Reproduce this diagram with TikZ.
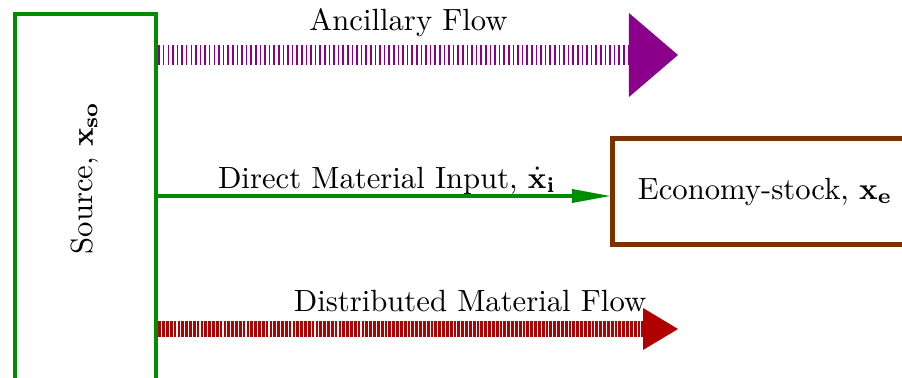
\documentclass[tikz,border=0pt]{standalone}
\usetikzlibrary{arrows.meta}
\definecolor{srcgreen}{RGB}{0,140,0}
\definecolor{ancpurple}{RGB}{139,0,139}
\definecolor{distred}{RGB}{176,0,0}
\definecolor{econbrown}{RGB}{122,51,0}
\begin{document}
\begin{tikzpicture}[x=0.326pt,y=-0.326pt,
  stockbox/.style={draw,rectangle,line width=1.5pt,inner sep=0pt,fill=white},
  flowlabel/.style={anchor=base,inner sep=0pt,text=black},
  ancflow/.style={ancpurple,line width=6.2pt,dash pattern=on 0.5pt off 1pt,
    -{Triangle[length=16pt,width=27.4pt,line width=0pt]}},
  distflow/.style={distred,line width=4.9pt,dash pattern=on 0.9pt off 0.35pt,
    -{Triangle[length=11.4pt,width=13.7pt,line width=0pt]}},
  inputflow/.style={srcgreen,line width=1pt,
    -{Triangle[length=12.4pt,width=4.6pt,line width=0pt]}}]
\useasboundingbox (0,0) rectangle (902,378);
\clip (0,0) rectangle (902,378);

% stocks
\node[stockbox,draw=srcgreen,minimum width=46pt,minimum height=135.6pt] (src) at (85.5,222) {};
\node[rotate=90,inner sep=0pt] (srclabel) at (85,178) {Source, $\mathbf{x}_\mathbf{so}$};
\node[stockbox,draw=econbrown,minimum width=99.6pt,minimum height=34.6pt] (econ) at (765,191.5)
  {\raisebox{-1.3pt}{Economy-stock, $\mathbf{x}_\mathbf{e}$}};

% flow end points
\coordinate (anctip) at (678,55);
\coordinate (dmi) at (0,196);
\coordinate (disttip) at (678,329);

% flows
\draw[ancflow] (src.east |- anctip) -- (anctip);
\draw[inputflow] (src.east |- dmi) -- (econ.west |- dmi);
\draw[distflow] (src.east |- disttip) -- (disttip);

% flow labels
\node[flowlabel] (anclabel) at (408.5,30) {Ancillary Flow};
\node[flowlabel] (dmilabel) at (387,188) {Direct Material Input, $\dot{\mathbf{x}}_\mathbf{i}$};
\node[flowlabel] (distlabel) at (470,311) {Distributed Material Flow};
\end{tikzpicture}
\end{document}
